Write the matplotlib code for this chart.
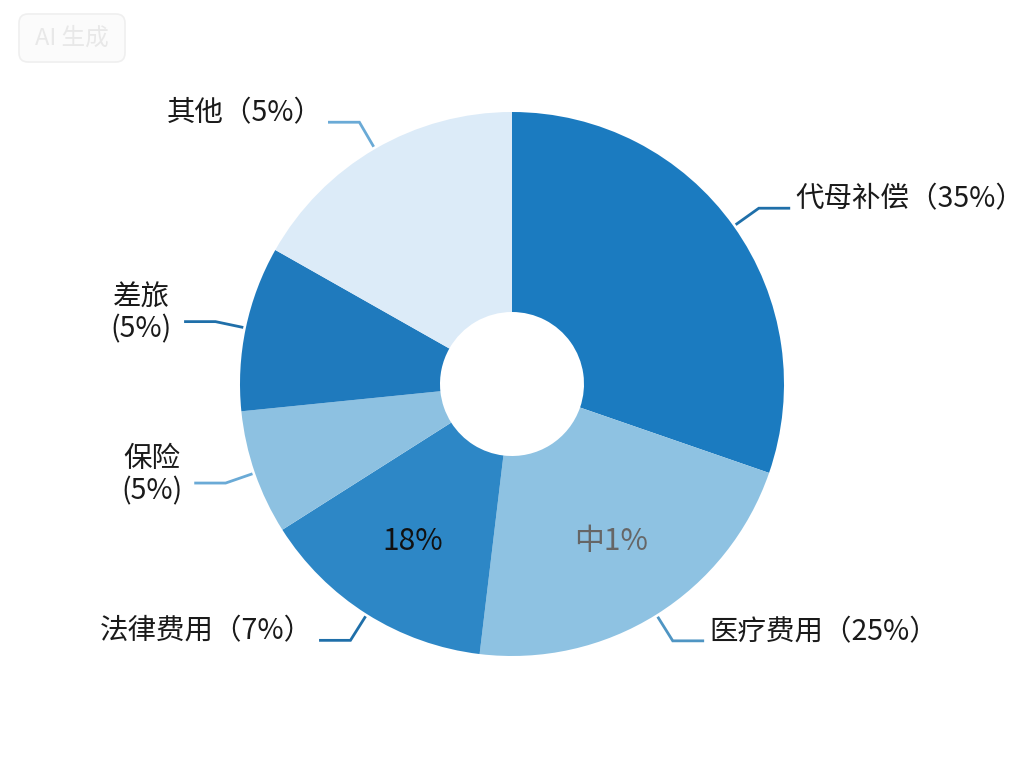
import numpy as np
import matplotlib.pyplot as plt
from matplotlib.patches import FancyBboxPatch

plt.rcParams['font.family'] = ['Noto Sans CJK SC', 'DejaVu Sans']

# slice shares as drawn (clockwise from 12 o'clock)
shares = [30.3, 21.6, 14.1, 7.4, 9.8, 16.8]
labels = ['代母补偿（35%）', '医疗费用（25%）', '法律费用（7%）', '保险\n(5%)', '差旅\n(5%)', '其他（5%）']
inner_labels = ['', '中1%', '18%', '', '', '']
colors = ['#1b7bc0', '#8ec2e2', '#2d87c6', '#8dc1e1', '#1f7abd', '#dcebf8']
line_colors = ['#1f6fa9', '#4f95c3', '#1f6fa9', '#6aaad6', '#1f6fa9', '#6aaad6']
inner_colors = ['#111111', '#666666', '#111111', '#111111', '#111111', '#111111']

W, H = 1024, 768
cx, cy = 512, H - 384
R = 272
ring = 200

fig = plt.figure(figsize=(W / 100, H / 100), dpi=100)
ax = fig.add_axes([0, 0, 1, 1])

wedges, _ = ax.pie(shares, colors=colors, startangle=90, counterclock=False,
                   center=(cx, cy), radius=R,
                   wedgeprops=dict(width=ring, edgecolor='none'))
ax.set_xlim(0, W)
ax.set_ylim(0, H)
ax.set_aspect('equal')
ax.axis('off')

for w, lab, inl, lc, tc in zip(wedges, labels, inner_labels, line_colors, inner_colors):
    mid = np.deg2rad((w.theta1 + w.theta2) / 2)
    c, s = np.cos(mid), np.sin(mid)
    p0 = (cx + (R + 4) * c, cy + (R + 4) * s)
    p1 = (cx + 303 * c, cy + 303 * s)
    side = 1 if c > 0 else -1
    p2 = (p1[0] + side * 30, p1[1])
    ax.plot([p0[0], p1[0], p2[0]], [p0[1], p1[1], p2[1]], color=lc, lw=2,
            solid_joinstyle='miter')
    if '\n' in lab:
        ax.text(p2[0] + side * 44, p2[1] + 8, lab, ha='center', va='center',
                fontsize=20.5, color='#1a1a1a', linespacing=1.1)
    else:
        ax.text(p2[0] + side * 7, p2[1] + 9, lab, ha='left' if side > 0 else 'right',
                va='center', fontsize=20.5, color='#1a1a1a')
    if inl:
        ax.text(cx + 186 * c, cy + 186 * s, inl, ha='center', va='center',
                fontsize=21.5, color=tc)

# faint watermark
box = FancyBboxPatch((19, H - 62), 106, 48, boxstyle='round,pad=0,rounding_size=9',
                     fc='#fbfbfb', ec='#efefef', lw=1.2)
ax.add_patch(box)
ax.text(72, H - 38, 'AI 生成', ha='center', va='center', fontsize=17, color='#e8e8e8')

fig.savefig('out.png', dpi=100)
